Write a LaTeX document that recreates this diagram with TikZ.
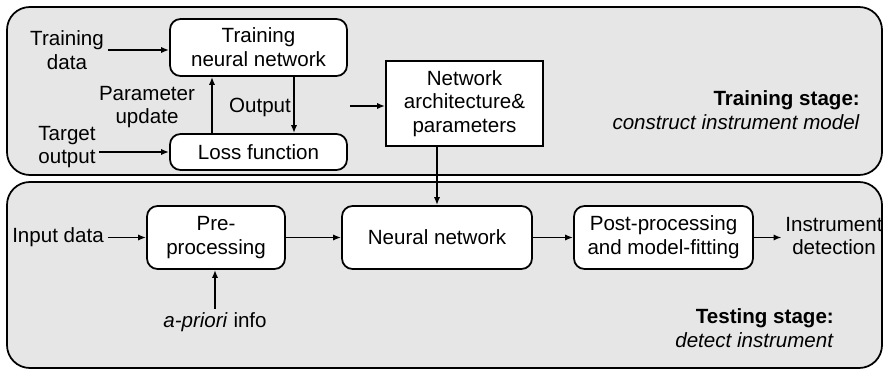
\documentclass[tikz,border=0pt]{standalone}
\usepackage{fontspec}
\setmainfont{Liberation Sans}
\usetikzlibrary{arrows.meta,positioning,calc}
\definecolor{stagegray}{HTML}{E6E6E6}

\tikzset{
  stagebox/.style={draw=black, fill=stagegray, rounded corners=13pt, line width=1pt},
  procbox/.style={draw=black, fill=white, rounded corners=6pt, line width=1pt, align=center},
  plainlbl/.style={align=center, inner sep=2pt},
  flow/.style={-{Latex[length=4.5pt,width=3.5pt]}, line width=0.9pt}
}

\begin{document}
\begin{tikzpicture}[font=\fontsize{11.7}{13.5}\selectfont]
  \useasboundingbox (0,0) rectangle (17.74,-7.42);
  % stages
  \draw[stagebox] (0.14,-0.14) rectangle (17.64,-3.5);
  \draw[stagebox] (0.14,-3.64) rectangle (17.64,-7.36);

  % training stage
  \node[procbox, minimum width=3.54cm, minimum height=1.14cm] (tnn) at (5.17,-0.95)
    {Training\\neural network};
  \node[procbox, minimum width=3.54cm, minimum height=0.72cm] (loss) at (5.17,-3.04)
    {Loss function};
  \node[procbox, rounded corners=0pt, minimum width=3.14cm, minimum height=1.7cm] (arch) at (9.29,-2.07)
    {Network\\architecture\&\\parameters};
  \node[plainlbl] (tdata) at (1.34,-1.0) {Training\\data};
  \node[plainlbl] (tout) at (1.34,-2.94) {Target\\output};
  \node[plainlbl] (pupd) at (2.94,-2.14) {Parameter\\update};
  \node[plainlbl] (outlbl) at (5.2,-2.14) {Output};
  \coordinate (archin) at (7.0,-2.12);
  \node[anchor=east, align=right] (trainlbl) at (17.32,-2.2)
    {\textbf{Training stage:}\\\textit{construct instrument model}};

  % testing stage
  \node[procbox, minimum width=2.76cm, minimum height=1.26cm] (pre) at (4.32,-4.75)
    {Pre-\\processing};
  \node[procbox, minimum width=3.8cm, minimum height=1.26cm] (nn) at (8.74,-4.75)
    {Neural network};
  \node[procbox, minimum width=3.58cm, minimum height=1.26cm] (post) at (13.27,-4.75)
    {Post-processing\\and model-fitting};
  \node[plainlbl] (indata) at (1.16,-4.75) {Input data};
  \node[plainlbl] (apriori) at (4.3,-6.44) {\textit{a-priori} info};
  \node[plainlbl] (instr) at (16.68,-4.72) {Instrument\\detection};
  \node[anchor=east, align=right] (testlbl) at (16.8,-6.56)
    {\textbf{Testing stage:}\\\textit{detect instrument}};

  % connectors
  \draw[flow] (tdata.east) -- (tdata.east -| tnn.west);
  \draw[flow] (tout.east |- loss.west) -- (loss.west);
  \draw[flow] ([xshift=-0.93cm]loss.north) -- ([xshift=-0.93cm]tnn.south);
  \draw[flow] ([xshift=0.71cm]tnn.south) -- ([xshift=0.71cm]loss.north);
  \draw[flow] (archin) -- (archin -| arch.west);
  \draw[flow] (nn.north |- arch.south) -- (nn.north);
  \draw[flow] (indata.east) -- (pre.west);
  \draw[flow] (apriori.north) -- (apriori.north |- pre.south);
  \draw[flow] (pre.east) -- (nn.west);
  \draw[flow] (nn.east) -- (post.west);
  \draw[flow] (post.east) -- (instr.west |- post.east);
\end{tikzpicture}
\end{document}
